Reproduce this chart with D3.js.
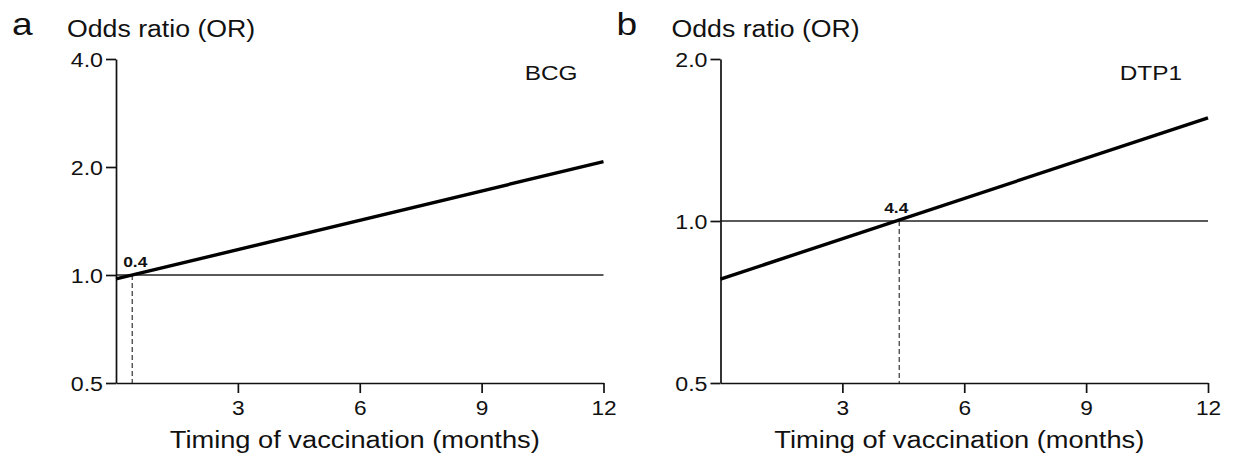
<!DOCTYPE html>
<html>
<head>
<meta charset="utf-8">
<script src="https://cdn.jsdelivr.net/npm/d3@7"></script>
<style>
  body { margin: 0; background: #fff; }
  svg text { font-family: "Liberation Sans", Arial, sans-serif; fill: #111; }
</style>
</head>
<body>
<div id="chart"></div>
<script>
// Datos
const panelLetters = ["a", "b"];
const vaccines = ["BCG", "DTP1"];
const monthsRange = [0, 12];
const orAtStart = [0.975, 0.78];   // OR at 0 months
const orAtEnd = [2.07, 1.555];     // OR at 12 months
const crossMonth = [0.4, 4.4];     // timing where OR = 1
const yTickValues = [[0.5, 1.0, 2.0, 4.0], [0.5, 1.0, 2.0]];
const xTickValues = [3, 6, 9, 12];

const svgWidth = 1233;
const svgHeight = 461;
const sx = 1.16; // the picture's text is stretched horizontally

// Configuracion de cada panel
const panelLeft = [116, 720.5];
const plotWidth = 487.5;
const plotTop = 59;
const plotBottom = 383;

const svg = d3.select("#chart")
    .append("svg")
    .attr("width", svgWidth)
    .attr("height", svgHeight);

function stretchedText(g, x, y, str, size, anchor, weight) {
    return g.append("text")
        .attr("transform", `translate(${x},${y}) scale(${sx},1)`)
        .attr("text-anchor", anchor || "start")
        .attr("font-size", size)
        .attr("font-weight", weight || "normal")
        .text(str);
}

panelLetters.forEach((letter, i) => {
    const left = panelLeft[i];
    const g = svg.append("g");

    const x = d3.scaleLinear()
        .domain(monthsRange)
        .range([left, left + plotWidth]);

    const yTicks = yTickValues[i];
    const y = d3.scaleLog()
        .base(2)
        .domain([yTicks[0], yTicks[yTicks.length - 1]])
        .range([plotBottom, plotTop]);

    // Linea de referencia OR = 1
    g.append("line")
        .attr("x1", x(0)).attr("x2", x(12))
        .attr("y1", y(1)).attr("y2", y(1))
        .attr("stroke", "#222")
        .attr("stroke-width", 1.4);

    // Linea vertical punteada
    g.append("line")
        .attr("x1", x(crossMonth[i])).attr("x2", x(crossMonth[i]))
        .attr("y1", y(1)).attr("y2", y(yTicks[0]))
        .attr("stroke", "#444")
        .attr("stroke-width", 1.3)
        .attr("stroke-dasharray", "5,3");

    // Ejes
    const yAxis = g.append("g")
        .attr("transform", `translate(${x(0)},0)`)
        .call(d3.axisLeft(y).tickValues(yTicks).tickFormat(d3.format(".1f")).tickSize(10).tickSizeOuter(0));

    const xAxis = g.append("g")
        .attr("transform", `translate(0,${plotBottom})`)
        .call(d3.axisBottom(x).tickValues(xTickValues).tickSize(10).tickSizeOuter(0));

    [yAxis, xAxis].forEach(ax => {
        ax.select(".domain").attr("stroke", "#111").attr("stroke-width", 1.7);
        ax.selectAll(".tick line").attr("stroke", "#111").attr("stroke-width", 1.7);
        ax.selectAll("text").attr("font-family", null).attr("fill", "#111");
    });

    yAxis.selectAll(".tick text")
        .attr("font-size", 20)
        .attr("x", -13 / sx)
        .attr("dy", "0.36em")
        .attr("transform", `scale(${sx},1)`);

    xAxis.selectAll(".tick text")
        .attr("font-size", 21)
        .attr("y", 32)
        .attr("dy", 0)
        .attr("transform", `scale(1.08,1)`)
        .attr("x", 0);

    // Linea de regresion
    g.append("line")
        .attr("x1", x(0)).attr("y1", y(orAtStart[i]))
        .attr("x2", x(12)).attr("y2", y(orAtEnd[i]))
        .attr("stroke", "#000")
        .attr("stroke-width", 3.4)
        .attr("stroke-linecap", "butt");

    // Textos
    stretchedText(g, x(crossMonth[i]) + (i === 0 ? 3 : -3), y(1) - 8, d3.format(".1f")(crossMonth[i]), 15, "middle", "bold");
    stretchedText(g, left + plotWidth - 26, 80, vaccines[i], 21, "end");
    stretchedText(g, left - 49, 37, "Odds ratio (OR)", 23, "start");
    stretchedText(g, left - 104, 35, letter, 32, "start");
    stretchedText(g, left + plotWidth / 2 - 5, 448, "Timing of vaccination (months)", 23.5, "middle");
});
</script>
</body>
</html>
